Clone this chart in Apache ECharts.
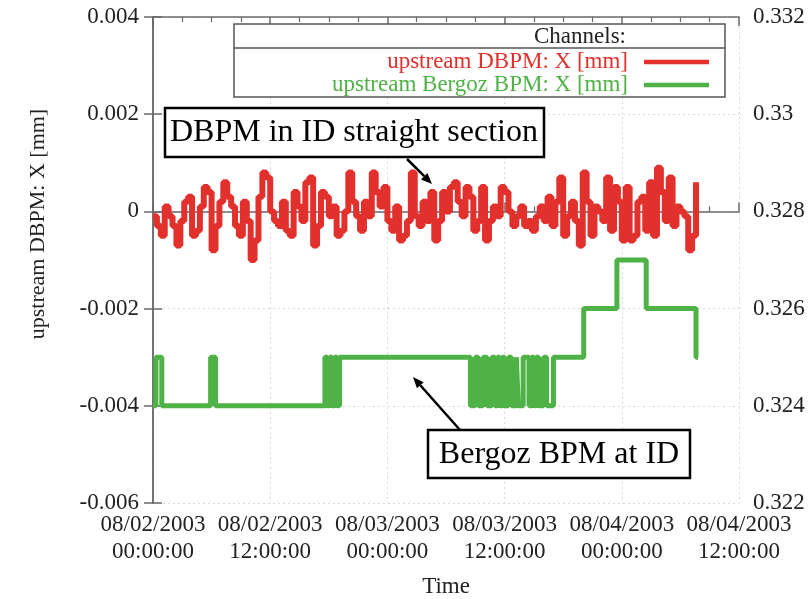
<!DOCTYPE html>
<html>
<head>
<meta charset="utf-8">
<script src="https://cdn.jsdelivr.net/npm/echarts@6/dist/echarts.min.js"></script>
<style>
html,body{margin:0;padding:0;background:#fff;}
#c{width:812px;height:599px;}
</style>
</head>
<body>
<div id="c"></div>
<script>
// ---- data ----
const xTickLabels = ['08/02/2003\n00:00:00','08/02/2003\n12:00:00','08/03/2003\n00:00:00','08/03/2003\n12:00:00','08/04/2003\n00:00:00','08/04/2003\n12:00:00'];
const leftTickLabels = ['-0.006','-0.004','-0.002','0','0.002','0.004'];
const rightTickLabels = ['0.322','0.324','0.326','0.328','0.33','0.332'];

// upstream DBPM X [mm], sampled every 0.4 hour from 08/02/2003 00:00
const redStartHour = 0;
const redStepHours = 0.4;
const redValues = [
 -0.0001,-0.0003,-0.0005,0.0001,-0.0001,-0.0003,-0.0007,-0.0002,0.0002,0.0003,
 -0.0005,-0.0004,0.0001,0.0005,0.0004,-0.0008,-0.0003,0.0002,0.0006,0.0003,
 0.0001,-0.0003,-0.0005,0.0002,-0.0002,-0.0010,-0.0006,0.0003,0.0008,0.0007,
 0.0000,-0.0002,-0.0003,0.0002,-0.0004,-0.0005,0.0004,0.0001,-0.0002,0.0006,
 0.0007,-0.0007,-0.0003,0.0004,0.0003,-0.0001,0.0001,-0.0005,-0.0004,0.0000,
 0.0008,0.0002,-0.0001,-0.0004,0.0002,-0.0001,0.0008,0.0004,0.0001,0.0005,
 -0.0002,-0.0004,0.0001,-0.0006,-0.0005,-0.0002,0.0008,-0.0001,-0.0003,0.0002,
 -0.0002,0.0004,-0.0006,-0.0002,0.0004,0.0000,0.0005,0.0006,0.0002,-0.0001,
 0.0005,0.0003,-0.0004,-0.0002,0.0005,-0.0006,-0.0002,0.0001,-0.0001,0.0005,
 0.0004,0.0000,-0.0003,-0.0001,0.0001,-0.0003,-0.0002,-0.0004,-0.0001,0.0001,
 -0.0002,0.0003,-0.0003,0.0002,0.0007,-0.0005,-0.0001,0.0002,-0.0002,-0.0007,
 0.0008,0.0002,-0.0005,0.0001,0.0000,-0.0002,0.0007,-0.0004,0.0005,0.0002,
 -0.0006,0.0005,-0.0006,-0.0005,0.0002,0.0003,-0.0004,0.0006,-0.0005,0.0009,
 0.0004,-0.0002,0.0007,-0.0003,0.0001,0.0000,-0.0001,-0.0008,-0.0005,0.0006
];

// upstream Bergoz BPM X [mm] (right axis): change times in hours and held values
const greenHours = [0,0.3,0.9,5.9,6.4,
 17.6,17.85,18.1,18.35,18.6,18.85,19.1,
 32.5,33.0,33.3,33.8,34.2,34.7,
 35.0,35.25,35.5,35.75,36.0,36.4,
 36.7,37.2,37.4,37.9,
 38.5,38.75,39.0,39.25,39.5,40.0,
 40.3,41.0,44.1,47.5,50.5,55.6,55.8];
const greenValues = [0.324,0.325,0.324,0.325,0.324,
 0.325,0.324,0.325,0.324,0.325,0.324,0.325,
 0.324,0.325,0.324,0.325,0.324,0.325,
 0.324,0.325,0.324,0.325,0.324,0.325,
 0.324,0.325,0.324,0.325,
 0.324,0.325,0.324,0.325,0.324,0.325,
 0.324,0.325,0.326,0.327,0.326,0.325,0.325];

const seriesNames = ['upstream DBPM: X [mm]','upstream Bergoz BPM: X [mm]'];
const RED = '#e2302c', GREEN = '#4fb246';
const FONT = 'Liberation Serif';

const redData = redValues.map((v,i)=>[redStartHour + i*redStepHours, v]);
const greenData = greenHours.map((t,i)=>[t, greenValues[i]]);

const chart = echarts.init(document.getElementById('c'), null, {renderer:'canvas'});

function arrow(x1,y1,x2,y2){
  const dx=x2-x1, dy=y2-y1, L=Math.hypot(dx,dy), ux=dx/L, uy=dy/L;
  const hl=11, hw=4.5;
  const bx=x2-ux*hl, by=y2-uy*hl;
  return [
    {type:'line', shape:{x1:x1,y1:y1,x2:bx,y2:by}, style:{stroke:'#000', lineWidth:2.5}, z:100},
    {type:'polygon', shape:{points:[[x2,y2],[bx-uy*hw,by+ux*hw],[bx+uy*hw,by-ux*hw]]}, style:{fill:'#000'}, z:100}
  ];
}

const axisLineStyle = {color:'#6a6a6a', width:1.5};
const gridLine = {show:true, lineStyle:{color:'#d8d8d8', type:[2,3], width:1}};

chart.setOption({
  animation:false,
  backgroundColor:'#fff',
  grid:{left:153, right:73, top:17, bottom:96, containLabel:false, outerBoundsMode:'none'},
  xAxis:[{
    type:'value', min:0, max:60, interval:12, position:'bottom',
    name:'Time', nameLocation:'middle', nameGap:72,
    nameTextStyle:{fontFamily:FONT, fontSize:23, color:'#222'},
    axisLine:{show:true, lineStyle:axisLineStyle},
    axisTick:{show:true, inside:true, length:9, lineStyle:axisLineStyle},
    minorTick:{show:true, splitNumber:4, length:5, lineStyle:{color:'#6a6a6a', width:1.2}},
    axisLabel:{fontFamily:FONT, fontSize:23, color:'#222', margin:8, lineHeight:27,
      formatter:(v)=>xTickLabels[Math.round(v/12)]},
    splitLine:gridLine
  },{
    type:'value', min:0, max:60, interval:12, position:'top',
    axisLine:{show:true, lineStyle:axisLineStyle},
    axisTick:{show:true, inside:true, length:9, lineStyle:axisLineStyle},
    minorTick:{show:true, splitNumber:4, length:5, lineStyle:{color:'#6a6a6a', width:1.2}},
    axisLabel:{show:false}, splitLine:{show:false}
  }],
  yAxis:[{
    type:'value', min:-0.006, max:0.004, interval:0.002, position:'left',
    axisLine:{show:true, lineStyle:axisLineStyle},
    axisTick:{show:true, inside:true, length:9, lineStyle:axisLineStyle},
    axisLabel:{fontFamily:FONT, fontSize:23, color:'#222', margin:14,
      formatter:(v)=>leftTickLabels[Math.round((v+0.006)/0.002)]},
    splitLine:gridLine
  },{
    type:'value', min:0.322, max:0.332, interval:0.002, position:'right',
    axisLine:{show:true, lineStyle:axisLineStyle},
    axisTick:{show:true, inside:true, length:9, lineStyle:axisLineStyle},
    axisLabel:{fontFamily:FONT, fontSize:23, color:'#222', margin:14,
      formatter:(v)=>rightTickLabels[Math.round((v-0.322)/0.002)]},
    splitLine:{show:false}
  }],
  series:[{
    name:seriesNames[0], type:'line', step:'end', data:redData, xAxisIndex:0, yAxisIndex:0,
    symbol:'none', lineStyle:{color:RED, width:6}, z:3
  },{
    name:seriesNames[1], type:'line', step:'end', data:greenData, xAxisIndex:0, yAxisIndex:1,
    symbol:'none', lineStyle:{color:GREEN, width:5}, z:4
  }],
  graphic:[
    // y axis title
    {type:'text', x:38, y:224, rotation:Math.PI/2,
      style:{text:'upstream DBPM: X [mm]', font:'22px "Liberation Serif"', fill:'#222', textAlign:'center', textVerticalAlign:'middle'}},
    // key box
    {type:'rect', shape:{x:234, y:24, width:491, height:73}, style:{fill:'#fff', stroke:'#555', lineWidth:1.5}, z:50},
    {type:'line', shape:{x1:234, y1:48, x2:725, y2:48}, style:{stroke:'#555', lineWidth:1.5}, z:51},
    {type:'text', x:580, y:37, style:{text:'Channels:', font:'23px "Liberation Serif"', fill:'#222', textAlign:'center', textVerticalAlign:'middle'}, z:52},
    {type:'text', x:628, y:62, style:{text:seriesNames[0], font:'23px "Liberation Serif"', fill:RED, textAlign:'right', textVerticalAlign:'middle'}, z:52},
    {type:'text', x:628, y:85, style:{text:seriesNames[1], font:'23px "Liberation Serif"', fill:GREEN, textAlign:'right', textVerticalAlign:'middle'}, z:52},
    {type:'line', shape:{x1:644, y1:62, x2:709, y2:62}, style:{stroke:RED, lineWidth:4.5}, z:52},
    {type:'line', shape:{x1:644, y1:85, x2:709, y2:85}, style:{stroke:GREEN, lineWidth:4.5}, z:52},
    // annotation 1
    {type:'rect', shape:{x:165, y:108, width:379, height:49}, style:{fill:'#fff', stroke:'#000', lineWidth:2.5}, z:90},
    {type:'text', x:354, y:133, style:{text:'DBPM in ID straight section', font:'32px "Liberation Serif"', fill:'#000', textAlign:'center', textVerticalAlign:'middle'}, z:91},
    ...arrow(407,159,432,184),
    // annotation 2
    {type:'rect', shape:{x:428, y:430, width:262, height:48}, style:{fill:'#fff', stroke:'#000', lineWidth:2.5}, z:90},
    {type:'text', x:559, y:455, style:{text:'Bergoz BPM at ID', font:'32px "Liberation Serif"', fill:'#000', textAlign:'center', textVerticalAlign:'middle'}, z:91},
    ...arrow(460,430,413,377)
  ]
});
</script>
</body>
</html>
